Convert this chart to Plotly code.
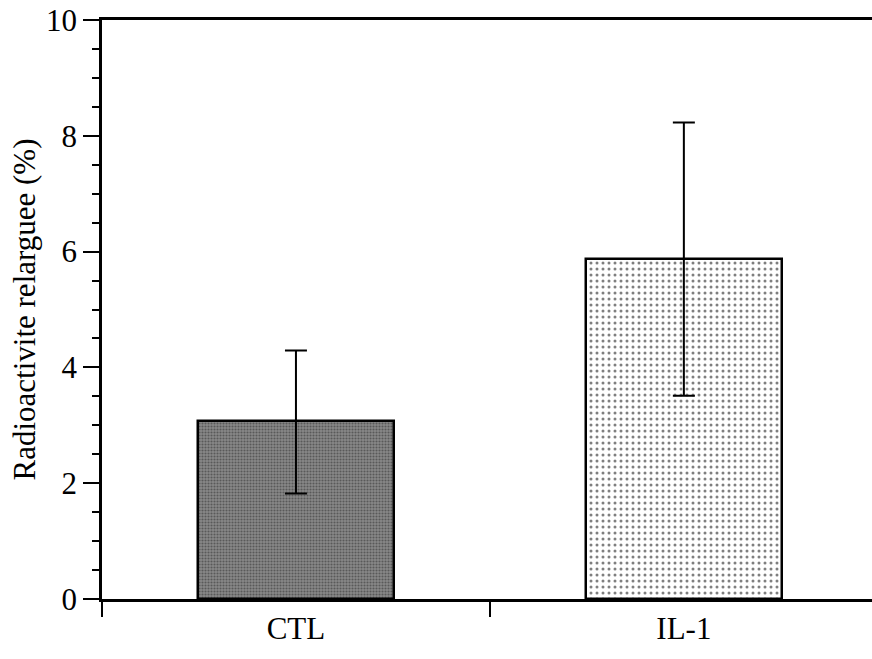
import plotly.graph_objects as go

# Released radioactivity per condition (%)
categories = ["CTL", "IL-1"]
means = [3.07, 5.87]
err_plus = [1.22, 2.36]
err_minus = [1.25, 2.36]

fills = ["#888888", "#ffffff"]
dot_colors = ["#2a2a2a", "#000000"]
dot_sizes = [3, 6]
dot_solidity = [0.4, 0.2]

fig = go.Figure()
for i, cat in enumerate(categories):
    fig.add_trace(go.Bar(
        x=[cat], y=[means[i]],
        width=0.505,
        marker=dict(
            color=fills[i],
            line=dict(color="black", width=2.5),
            pattern=dict(shape=".", fgcolor=dot_colors[i], bgcolor=fills[i],
                         size=dot_sizes[i], solidity=dot_solidity[i],
                         fillmode="overlay"),
        ),
        error_y=dict(type="data", symmetric=False,
                     array=[err_plus[i]], arrayminus=[err_minus[i]],
                     color="black", thickness=2, width=11),
        showlegend=False,
    ))

serif = "Liberation Serif, Times New Roman, serif"
fig.update_layout(
    width=872, height=659,
    margin=dict(l=102, r=0, t=20, b=60),
    paper_bgcolor="white", plot_bgcolor="white",
    font=dict(family=serif, color="black", size=30),
    bargap=0,
    xaxis=dict(
        type="category", range=[-0.5, 1.485],
        showline=True, linecolor="black", linewidth=2.5, mirror=True,
        ticks="outside", tickson="boundaries", ticklen=15, tickwidth=1.5,
        tickcolor="black", showgrid=False, zeroline=False,
        tickfont=dict(size=31, family=serif),
    ),
    yaxis=dict(
        range=[0, 10], tickvals=[0, 2, 4, 6, 8, 10],
        showline=True, linecolor="black", linewidth=2.5,
        ticks="outside", ticklen=16, tickwidth=1.5, tickcolor="black",
        minor=dict(dtick=0.5, ticks="outside", ticklen=7, tickwidth=1.5,
                   tickcolor="black", showgrid=False),
        showgrid=False, zeroline=False,
        tickfont=dict(size=31, family=serif),
        title=dict(text="Radioactivite relarguee (%)",
                   font=dict(size=31, family=serif), standoff=2),
    ),
)

fig.write_html("out.html")
